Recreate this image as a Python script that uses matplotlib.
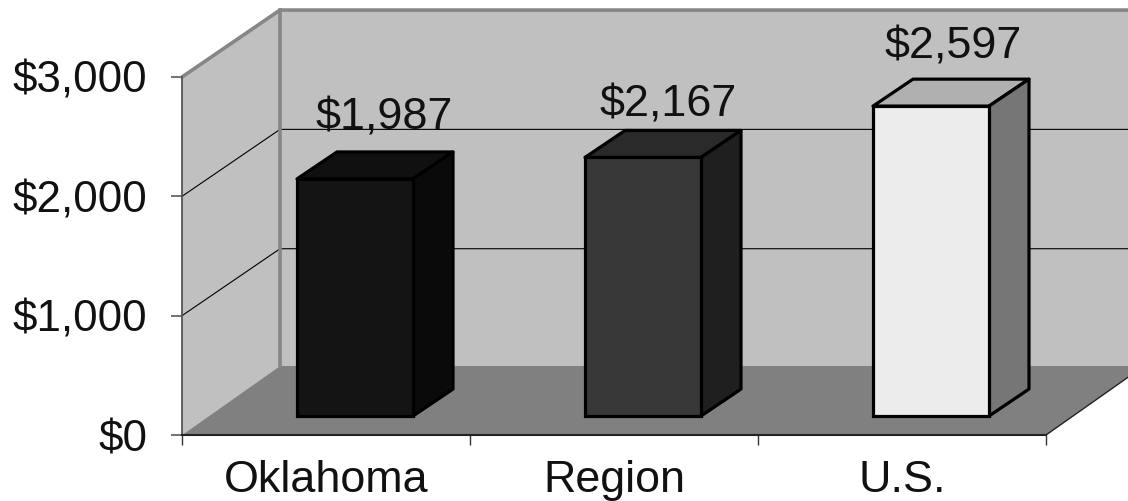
import matplotlib
matplotlib.use('Agg')
import matplotlib.pyplot as plt
from matplotlib.patches import Polygon

categories = ['Oklahoma', 'Region', 'U.S.']
values = [1987, 2167, 2597]
value_labels = ['$1,987', '$2,167', '$2,597']
y_ticks = [0, 1000, 2000, 3000]
y_tick_labels = ['$0', '$1,000', '$2,000', '$3,000']
front_colors = ['#141414', '#383838', '#ececec']
top_colors = ['#101010', '#2a2a2a', '#b0b0b0']
side_colors = ['#0a0a0a', '#1f1f1f', '#767676']
label_lift = [415, 345, 395]
label_shift = [0.1, 0.087, 0.076]

plt.rcParams['font.family'] = ['Liberation Sans', 'DejaVu Sans']

fig = plt.figure(figsize=(11.28, 5.01), dpi=100)
ax = fig.add_axes([182 / 1128, (501 - 435) / 501, 864 / 1128, 358 / 501])
ax.set_xlim(0, 3)
ax.set_ylim(0, 3000)
for s in ax.spines.values():
    s.set_visible(False)

# fake 3d: depth of the box in data units
dx = 98 / 288
dy = 561
floor_dy = 578
ymax = 3000

ax.add_patch(Polygon([(dx, floor_dy), (3 + dx, floor_dy), (3 + dx, ymax + dy), (dx, ymax + dy)],
                     fc='#c0c0c0', ec='none', clip_on=False, zorder=1))
ax.add_patch(Polygon([(0, 0), (dx, floor_dy), (dx, ymax + dy), (0, ymax)],
                     fc='#c0c0c0', ec='none', clip_on=False, zorder=1))
ax.add_patch(Polygon([(0, 0), (3, 0), (3 + dx, floor_dy), (dx, floor_dy)],
                     fc='#808080', ec='none', clip_on=False, zorder=1))

for t in y_ticks[1:3]:
    ax.plot([0, dx, 3 + dx], [t, t + dy, t + dy], color='black', lw=0.8, clip_on=False, zorder=2)

# wall edges
ax.plot([0, dx, 3 + dx], [ymax, ymax + dy, ymax + dy], color='#868686', lw=2.6, clip_on=False, zorder=2)
ax.plot([dx, dx], [floor_dy, ymax + dy], color='#868686', lw=2.6, clip_on=False, zorder=2)
ax.plot([0, 0], [0, ymax], color='#555555', lw=1.3, clip_on=False, zorder=2)
ax.plot([0, 3], [0, 0], color='#222222', lw=1.5, clip_on=False, zorder=2)
ax.plot([3, 3 + dx], [0, floor_dy], color='#222222', lw=1, clip_on=False, zorder=2)

# bars
width = 116 / 288
start = 115 / 288
base = 159
bar_dx = 40 / 288
bar_dy = 226
x = [i + start + width / 2 for i in range(len(values))]

ax.bar(x, values, width=width, bottom=base, color=front_colors, edgecolor='black',
       linewidth=2.3, zorder=4, clip_on=False)
for i, v in enumerate(values):
    l = x[i] - width / 2
    r = x[i] + width / 2
    top = base + v
    ax.add_patch(Polygon([(l, top), (r, top), (r + bar_dx, top + bar_dy), (l + bar_dx, top + bar_dy)],
                         fc=top_colors[i], ec='black', lw=2.3, joinstyle='round', clip_on=False, zorder=3))
    ax.add_patch(Polygon([(r, base), (r + bar_dx, base + bar_dy), (r + bar_dx, top + bar_dy), (r, top)],
                         fc=side_colors[i], ec='black', lw=2.3, joinstyle='round', clip_on=False, zorder=3))
    ax.text(x[i] + label_shift[i], top + label_lift[i], value_labels[i], ha='center', va='baseline',
            fontsize=32.3, color='#111111', zorder=5, clip_on=False)

ax.set_yticks(y_ticks)
ax.set_yticklabels(y_tick_labels, fontsize=31.6, color='#111111')
ax.tick_params(axis='y', length=8, width=1.3, color='#666666', pad=17)
ax.set_xticks([0, 1, 2, 3])
ax.set_xticklabels([])
ax.tick_params(axis='x', which='major', length=7.5, width=1, color='#333333')
ax.set_xticks([0.5, 1.5, 2.5], minor=True)
ax.set_xticklabels(categories, minor=True, fontsize=32.3, color='#111111')
ax.tick_params(axis='x', which='minor', length=0, pad=18)

fig.savefig('out.png', dpi=100)
